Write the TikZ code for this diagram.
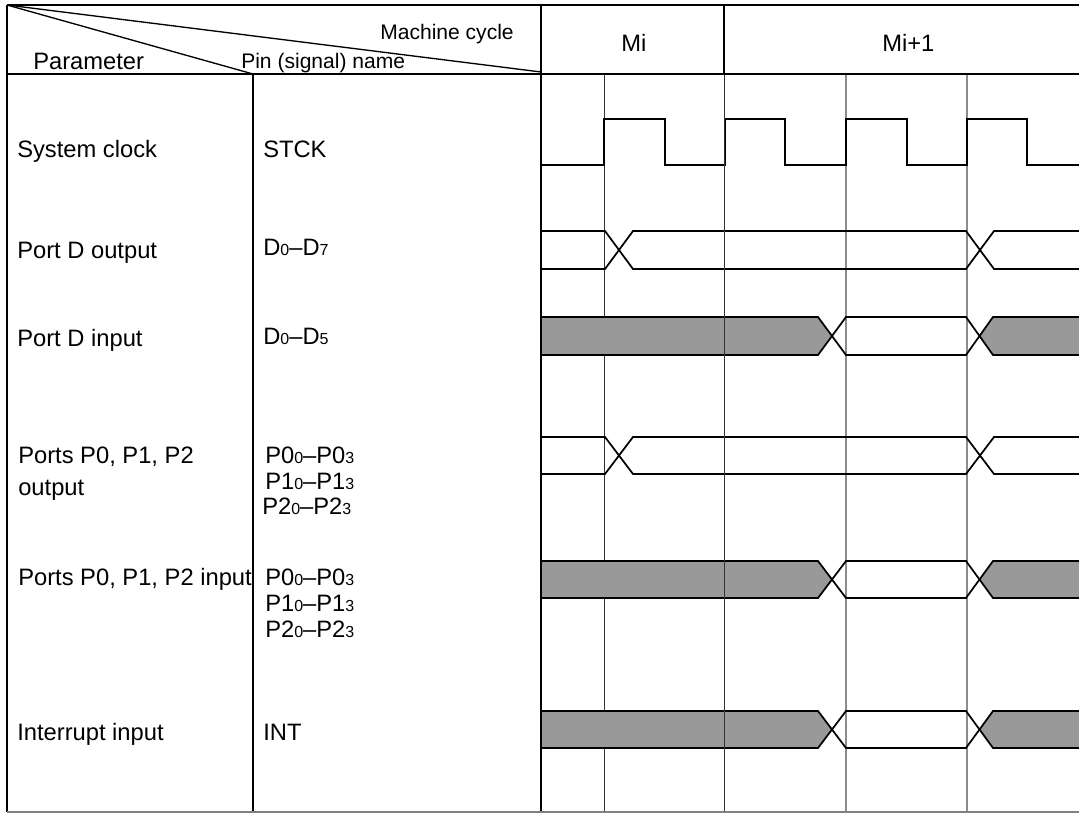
\documentclass[tikz,border=0pt]{standalone}
\usepackage{fontspec}
\setmainfont{Liberation Sans}
\newcommand{\lowidx}[1]{{\fontsize{12}{12}\selectfont #1}}
\tikzset{
	label/.style={ inner sep=0pt, anchor=west, text height=12.8pt, text depth=0pt, font=\fontsize{17.8}{18}\selectfont },
	headtext/.style={ inner sep=0pt, anchor=west, text height=11.4pt, text depth=0pt, font=\fontsize{15.8}{16}\selectfont },
	frameline/.style={ line width=1.6pt },
	thinline/.style={ line width=0.75pt, black!80 },
	paleline/.style={ line width=1pt, black!45 },
	signal/.style={ line width=1.3pt, line join=miter },
	blocked/.style={ fill=black!40, draw=none },
}
\begin{document}
\begin{tikzpicture}[x=0.75pt,y=-0.75pt]

\useasboundingbox (0,0) rectangle (1079,813);

\coordinate (tl) at (7,5);
\coordinate (tr) at (1079,5);
\coordinate (hl) at (7,74);
\coordinate (hr) at (1079,74);
\coordinate (bl) at (7,812);
\coordinate (br) at (1079,812);
\coordinate (ca) at (253,74);
\coordinate (cb) at (253,812);
\coordinate (da) at (541,5);
\coordinate (db) at (541,812);
\coordinate (dc) at (541,72);
\coordinate (ea) at (724,5);
\coordinate (eb) at (724,74);

% cycle ticks, these go under the grey bars
\draw[thinline] (604,74) -- (604,812);
\draw[paleline] (846,74) -- (846,812);
\draw[paleline] (967,74) -- (967,812);

\node[headtext] (mc) at (380,32) {Machine cycle};
\node[label] (par) at (33,61) {Parameter};
\node[headtext] (pin) at (241,61) {Pin (signal) name};
\node[label] (mi) at (621,43) {Mi};
\node[label] (mj) at (882,43) {Mi+1};

\node[label] (sys) at (17,149) {System clock};
\node[label] (stck) at (263,149) {STCK};
\node[label] (pdo) at (17,250) {Port D output};
\node[label] (pdo2) at (263,247) {D\lowidx{0}–D\lowidx{7}};
\node[label] (pdi) at (17,338) {Port D input};
\node[label] (pdi2) at (263,336) {D\lowidx{0}–D\lowidx{5}};
\node[label] (pto) at (18,455) {Ports P0, P1, P2};
\node[label] (pto1) at (18,487) {output};
\node[label] (q0) at (265,455) {P0\lowidx{0}–P0\lowidx{3}};
\node[label] (q1) at (265,481) {P1\lowidx{0}–P1\lowidx{3}};
\node[label] (q2) at (262,506) {P2\lowidx{0}–P2\lowidx{3}};
\node[label] (pti) at (18,577) {Ports P0, P1, P2 input};
\node[label] (r0) at (265,577) {P0\lowidx{0}–P0\lowidx{3}};
\node[label] (r1) at (265,603) {P1\lowidx{0}–P1\lowidx{3}};
\node[label] (r2) at (265,629) {P2\lowidx{0}–P2\lowidx{3}};
\node[label] (irq) at (17,732) {Interrupt input};
\node[label] (irq2) at (263,732) {INT};

% clock
\draw[signal] (541,165) -- (604,165) -- (604,119) -- (665,119) -- (665,165) -- (725,165) -- (725,119) -- (785,119) -- (785,165) -- (846,165) -- (846,119) -- (907,119) -- (907,165) -- (967,165) -- (967,119) -- (1027,119) -- (1027,165) -- (1079,165);

% output rows
\foreach \t/\b in {231/269,437/474} {
	\draw[signal] (541,\t) -- (605,\t) -- (633,\b) -- (966,\b) -- (994,\t) -- (1079,\t);
	\draw[signal] (541,\b) -- (605,\b) -- (633,\t) -- (966,\t) -- (994,\b) -- (1079,\b);
}

% input rows
\foreach \t/\b in {317/355,561/598,711/748} {
	\pgfmathsetmacro{\m}{(\t+\b)/2}
	\fill[blocked] (541,\t) -- (818,\t) -- (832,\m) -- (818,\b) -- (541,\b) -- cycle;
	\fill[blocked] (1079,\t) -- (993,\t) -- (980,\m) -- (993,\b) -- (1079,\b) -- cycle;
	\draw[signal] (541,\t) -- (818,\t) -- (846,\b) -- (966,\b) -- (993,\t) -- (1079,\t);
	\draw[signal] (541,\b) -- (818,\b) -- (846,\t) -- (966,\t) -- (993,\b) -- (1079,\b);
}

% this tick stays on top of the bars
\draw[thinline] (724,74) -- (724,812);

% frame of the table
\draw[frameline] (tl) -- (tr);
\draw[frameline] (hl) -- (hr);
\draw[frameline] (tl) -- (bl);
\draw[frameline] (ca) -- (cb);
\draw[frameline] (da) -- (db);
\draw[frameline] (ea) -- (eb);
\draw[line width=0.8pt, black!50] (bl) -- (br);
\draw[line width=1pt] (tl) -- (ca);
\draw[line width=1pt] (tl) -- (dc);

\end{tikzpicture}
\end{document}
